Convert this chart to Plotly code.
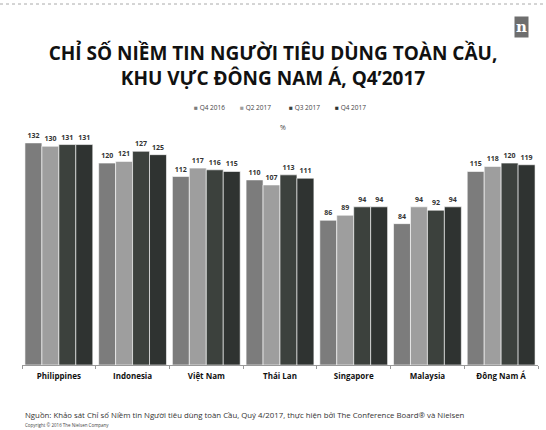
import plotly.graph_objects as go

categories = ["Philippines", "Indonesia", "Việt Nam", "Thái Lan", "Singapore", "Malaysia", "Đông Nam Á"]
series_names = ["Q4 2016", "Q2 2017", "Q3 2017", "Q4 2017"]
q4_2016 = [132, 120, 112, 110, 86, 84, 115]
q2_2017 = [130, 121, 117, 107, 89, 94, 118]
q3_2017 = [131, 127, 116, 113, 94, 92, 120]
q4_2017 = [131, 125, 115, 111, 94, 94, 119]
series_values = [q4_2016, q2_2017, q3_2017, q4_2017]
colors = ["#7c7c7c", "#9e9e9e", "#3c413d", "#2f3331"]

fig = go.Figure()
for name, vals, c in zip(series_names, series_values, colors):
    fig.add_trace(go.Bar(
        x=categories, y=vals, name=name,
        marker=dict(color=c, line=dict(color="white", width=0.6)),
        text=[f"<b>{v}</b>" for v in vals], textposition="outside",
        textfont=dict(size=7, color="#333333", family="Open Sans"),
        cliponaxis=False, showlegend=False,
    ))

L, R, T, B = 22, 8, 121, 65
W, Hh = 546, 430
H_PLOT = Hh - T - B
W_PLOT = W - L - R
def py(pix):
    return (Hh - B - pix) / H_PLOT
def px(pix):
    return (pix - L) / W_PLOT

fig.update_layout(
    width=W, height=Hh,
    paper_bgcolor="white", plot_bgcolor="white",
    margin=dict(l=L, r=R, t=T, b=B, autoexpand=False),
    barmode="group", bargap=0.08, bargroupgap=0,
    font=dict(family="Open Sans", color="#222222"),
    showlegend=False,
    title=dict(text="<b>CHỈ SỐ NIỀM TIN NGƯỜI TIÊU DÙNG TOÀN CẦU,<br>KHU VỰC ĐÔNG NAM Á, Q4’2017</b>",
               x=0.5, xanchor="center", y=1 - 60 / Hh, yanchor="top",
               font=dict(size=19, color="#111111", family="Open Sans")),
    xaxis=dict(showline=True, linecolor="#999999", linewidth=1, ticks="outside",
               tickson="boundaries", ticklen=3, tickcolor="#999999",
               tickfont=dict(size=8, color="#111111", family="Open Sans"),
               ticklabelstandoff=3,
               showgrid=False, automargin=False),
    yaxis=dict(range=[0, 145], visible=False, showgrid=False, automargin=False),
)
fig.update_xaxes(ticktext=[f"<b>{c}</b>" for c in categories], tickvals=categories)

# legend drawn as text entries
legend_x = [192, 238, 287, 333]
for name, c, lx in zip(series_names, colors, legend_x):
    fig.add_annotation(text=f'<span style="color:{c}">■</span> {name}',
                       x=px(lx), y=py(107), xref="paper", yref="paper",
                       xanchor="left", yanchor="middle", showarrow=False,
                       font=dict(size=6.5, color="#444444"))

fig.add_annotation(text="%", x=px(283), y=py(127), xref="paper", yref="paper",
                   xanchor="center", yanchor="middle",
                   showarrow=False, font=dict(size=7, color="#444444"))
fig.add_annotation(text="<b>n</b>", x=px(521), y=py(27), xref="paper", yref="paper",
                   xanchor="center", yanchor="middle", showarrow=False,
                   font=dict(size=15, color="white", family="DejaVu Serif"),
                   bgcolor="#6e6e6e", borderpad=1)
fig.add_annotation(text="Nguồn: Khảo sát Chỉ số Niềm tin Người tiêu dùng toàn Cầu, Quý 4/2017, thực hiện bởi The Conference Board® và Nielsen",
                   x=px(23), xref="paper", xanchor="left", y=py(415), yref="paper", yanchor="middle",
                   showarrow=False, font=dict(size=7.8, color="#333333"))
fig.add_annotation(text="Copyright © 2016 The Nielsen Company",
                   x=px(23), xref="paper", xanchor="left", y=py(425), yref="paper", yanchor="middle",
                   showarrow=False, font=dict(size=4.5, color="#444444"))
fig.add_shape(type="line", xref="paper", yref="paper", x0=px(0), x1=px(546), y0=py(4), y1=py(4),
              line=dict(color="#aaaaaa", width=1, dash="dot"))

fig.write_html("out.html", config={"displayModeBar": False},
               post_script="document.body.style.margin='0';document.body.style.overflow='hidden';")
